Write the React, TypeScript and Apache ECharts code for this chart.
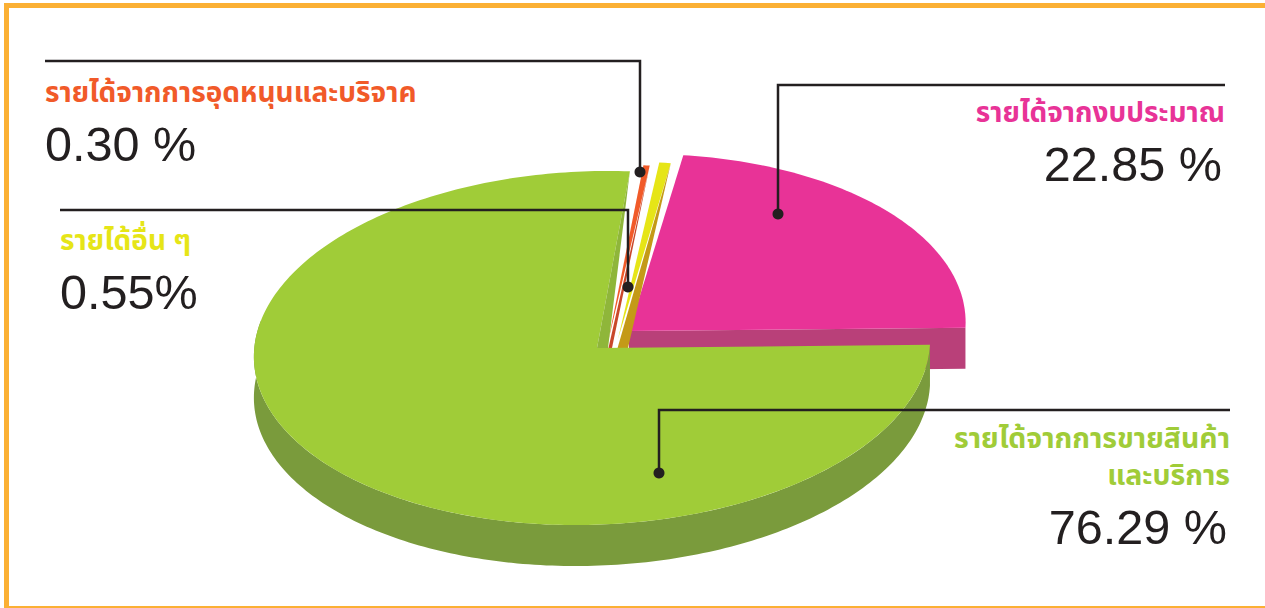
import React, { useEffect, useRef } from "react";
import * as echarts from "echarts";

// Data
const categories = ["รายได้จากงบประมาณ", "รายได้จากการขายสินค้า\nและบริการ", "รายได้จากการอุดหนุนและบริจาค", "รายได้อื่น ๆ"];
const shares = [22.85, 76.29, 0.3, 0.55];
const shareLabels = ["22.85 %", "76.29 %", "0.30 %", "0.55%"];

// Styling, one entry per slice
const topColors = ["#E83397", "#A0CC38", "#F15A29", "#E6E517"];
const cutColors = ["#B94079", "#8FB63A", "#C9472A", "#C49A17"];

const START_DEG = 8.0;
const RX = 338;
const RY = 177;
const DEPTH = 41;
const SKEW_Y = 0.012;
const SKEW_X = 0.05;
// rim centre, visible apex, cut-wedge width for each slice
const centres = [
  { x: 627.5, y: 331, ax: 629, wl: 0, wr: 0 },
  { x: 592, y: 348, ax: 597, wl: 0, wr: 11 },
  { x: 605.5, y: 342, ax: 608, wl: 0, wr: 4 },
  { x: 615, y: 339, ax: 618, wl: -1, wr: 10 },
];
const drawOrder = [0, 2, 3, 1];

const total = shares.reduce((a, b) => a + b, 0);
const ranges = (() => {
  let a = START_DEG;
  return shares.map((v) => {
    const s = a;
    a += (v / total) * 360;
    return [s, a];
  });
})();

function rim(i: number, deg: number, dy = 0): number[] {
  const t = (deg * Math.PI) / 180;
  const c = centres[i];
  const sx = RX * Math.sin(t);
  const cy = RY * Math.cos(t);
  return [c.x + sx + SKEW_X * cy, c.y - cy - SKEW_Y * sx + dy];
}

function arc(i: number, a: number, b: number, dy = 0): number[][] {
  const n = Math.max(2, Math.ceil(Math.abs(b - a)));
  const out: number[][] = [];
  for (let k = 0; k <= n; k++) out.push(rim(i, a + ((b - a) * k) / n, dy));
  return out;
}

function renderSlice(_: any, api: any) {
  const i = drawOrder[api.value(0)];
  const [a, b] = ranges[i];
  const c = centres[i];
  const children: any[] = [];
  const poly = (points: number[][], fill: string) =>
    children.push({ type: "polygon", shape: { points }, style: { fill, stroke: "none" } });
  if (i === 0) {
    const r = rim(0, b);
    poly([[c.ax, c.y], r, [r[0], r[1] + DEPTH], [c.ax, c.y + DEPTH]], cutColors[0]);
    poly([[c.ax, c.y], ...arc(0, a, b)], topColors[0]);
  } else if (i === 1) {
    const front = arc(1, a, a + 190);
    poly([...front, ...front.map((p) => [p[0], p[1] + DEPTH]).reverse()], "#7A9B3C");
    poly([[c.ax, c.y], ...arc(1, a, b)], topColors[1]);
    const r = rim(1, b);
    poly([r, [c.ax + c.wr, c.y], [c.ax, c.y]], cutColors[1]);
  } else {
    poly([[c.ax, c.y], ...arc(i, a, b)], topColors[i]);
    const r = rim(i, b);
    const baseY = 350;
    const slope = (c.ax + c.wr - r[0]) / (348 - r[1]);
    poly([r, [r[0] + slope * (baseY - r[1]), baseY], [c.ax + c.wl, baseY]], cutColors[i]);
  }
  return { type: "group", children };
}

const INK = "#231F20";
const BORDER = "#FBB034";
const THAI = "'Noto Sans Thai','Noto Sans','DejaVu Sans','Liberation Sans',sans-serif";
const NUM = "'Liberation Sans',Arial,sans-serif";

const leader = (pts: number[][]) => [
  { type: "polyline", shape: { points: pts }, style: { stroke: INK, lineWidth: 2.5, fill: "none" }, z: 10 },
  { type: "circle", shape: { cx: pts[2][0], cy: pts[2][1], r: 5.5 }, style: { fill: INK }, z: 10 },
];
const label = (text: string, x: number, y: number, align: string, fill: string, size = 28, bold = true) => ({
  type: "text",
  x,
  y,
  z: 10,
  style: {
    text,
    fill,
    align,
    verticalAlign: "middle",
    lineHeight: 37,
    fontFamily: bold ? THAI : NUM,
    fontSize: size,
    fontWeight: bold ? 700 : 400,
  },
});

export default function App() {
  const ref = useRef<HTMLDivElement>(null);
  useEffect(() => {
    document.body.style.margin = "0";
    const chart = echarts.init(ref.current!, null, { renderer: "svg" });
    chart.setOption({
      animation: false,
      backgroundColor: "#FFFFFF",
      series: [
        {
          type: "custom",
          coordinateSystem: "none",
          silent: true,
          data: drawOrder.map((k, n) => [n, shares[k]]),
          renderItem: renderSlice,
        },
      ],
      graphic: [
        { type: "rect", shape: { x: 4, y: 3, width: 1261, height: 5 }, style: { fill: BORDER } },
        { type: "rect", shape: { x: 4, y: 3, width: 5, height: 605 }, style: { fill: BORDER } },
        { type: "rect", shape: { x: 4, y: 606, width: 1261, height: 2 }, style: { fill: BORDER } },
        ...leader([[45, 61], [640, 61], [640, 172]]),
        ...leader([[60, 210], [628, 210], [628, 287]]),
        ...leader([[1225, 85], [778, 85], [778, 214]]),
        ...leader([[1230, 410], [659, 410], [659, 473]]),
        label(categories[2], 45, 93, "left", topColors[2]),
        label(shareLabels[2], 45, 144, "left", INK, 48.6, false),
        label(categories[3], 60, 241, "left", topColors[3]),
        label(shareLabels[3], 60, 292, "left", INK, 48.6, false),
        label(categories[0], 1225, 113, "right", topColors[0]),
        label(shareLabels[0], 1222, 164, "right", INK, 48.6, false),
        label(categories[1], 1230, 457.5, "right", topColors[1], 28.4),
        label(shareLabels[1], 1227, 527, "right", INK, 48.6, false),
      ],
    });
    return () => chart.dispose();
  }, []);
  return <div ref={ref} style={{ width: 1265, height: 608 }} />;
}
